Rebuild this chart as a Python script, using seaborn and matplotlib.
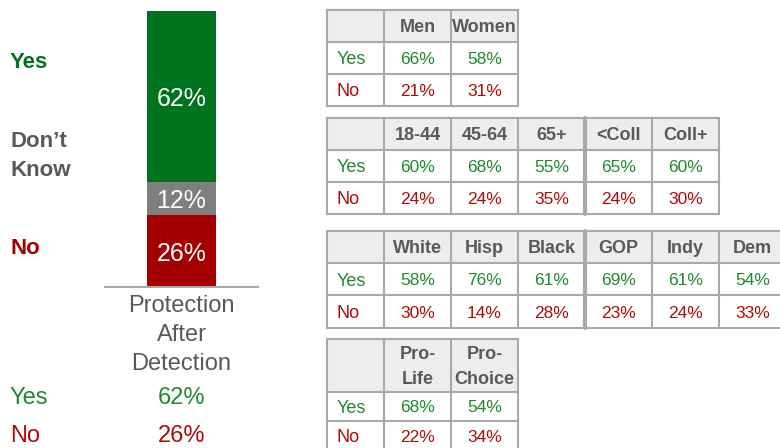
import numpy as np
import pandas as pd
import matplotlib
matplotlib.use("Agg")
import matplotlib.pyplot as plt
import seaborn as sns
from matplotlib.patches import Rectangle

sns.set_theme(style="white")
plt.rcParams['font.family'] = ['Liberation Sans', 'DejaVu Sans']

# colours
BAR_GREEN = '#00731F'
BAR_GREY = '#7F7F7F'
BAR_RED = '#A50000'
TXT_GREEN = '#1E8A2E'
TXT_RED = '#B00A0A'
TXT_GREY = '#595959'
GRID = '#A9A9A9'
HEADER_FILL = '#EDEDED'

# ---- data ----
bar_category = 'Protection\nAfter\nDetection'
responses = ['Yes', 'Don\u2019t\nKnow', 'No']
shares = [62, 12, 26]
summary_labels = ['Yes', 'No']
summary_values = [62, 26]

gender_groups = ['Men', 'Women']
gender_yes = [66, 58]
gender_no = [21, 31]

age_edu_groups = ['18-44', '45-64', '65+', '<Coll', 'Coll+']
age_edu_yes = [60, 68, 55, 65, 60]
age_edu_no = [24, 24, 35, 24, 30]

race_party_groups = ['White', 'Hisp', 'Black', 'GOP', 'Indy', 'Dem']
race_party_yes = [58, 76, 61, 69, 61, 54]
race_party_no = [30, 14, 28, 23, 24, 33]

abortion_groups = ['Pro-\nLife', 'Pro-\nChoice']
abortion_yes = [68, 54]
abortion_no = [22, 34]

W, H = 780, 448
fig = plt.figure(figsize=(W / 100, H / 100), dpi=100)

# overlay axes in pixel coordinates for labels and tables
ov = fig.add_axes([0, 0, 1, 1])
ov.set_xlim(0, W)
ov.set_ylim(H, 0)
ov.axis('off')

# ---- stacked bar ----
bar_ax = fig.add_axes([105 / W, (H - 287) / H, 153 / W, 276 / H])
resp_colors = dict(zip(responses, [BAR_GREEN, BAR_GREY, BAR_RED]))
stack = list(zip(responses, shares))[::-1]  # bottom to top
tops = np.cumsum([v for _, v in stack])
for (resp, val), top in reversed(list(zip(stack, tops))):
    df = pd.DataFrame({'cat': [bar_category], 'val': [top]})
    sns.barplot(data=df, x='cat', y='val', color=resp_colors[resp], saturation=1,
                width=0.45, edgecolor='none', linewidth=0, ax=bar_ax)
    bar_ax.text(0, top - val / 2, f'{val}%', ha='center', va='center_baseline',
                color='white', fontsize=18)
bar_ax.set_xlim(-0.5, 0.5)
bar_ax.set_ylim(0, 100)
bar_ax.set_xlabel('')
bar_ax.set_ylabel('')
bar_ax.set_yticks([])
for s in ['top', 'left', 'right']:
    bar_ax.spines[s].set_visible(False)
bar_ax.spines['bottom'].set_color(GRID)
bar_ax.spines['bottom'].set_linewidth(1.5)
bar_ax.tick_params(axis='x', length=0, pad=6, labelsize=17, labelcolor=TXT_GREY)
for t in bar_ax.get_xticklabels():
    t.set_linespacing(1.4)

# left legend-like labels
label_y = [63, 156, 248]
for resp, y, c in zip(responses, label_y, [BAR_GREEN, TXT_GREY, BAR_RED]):
    ov.text(10, y, resp, ha='left', va='center', color=c, fontsize=16,
            fontweight='bold', linespacing=1.45)

# summary rows under the bar
for lab, val, y, c in zip(summary_labels, summary_values, [396, 434], [TXT_GREEN, TXT_RED]):
    ov.text(10, y, lab, ha='left', va='center_baseline', color=c, fontsize=17)
    ov.text(181.5, y, f'{val}%', ha='center', va='center_baseline', color=c, fontsize=17)


def draw_table(ax, left, top, groups, yes, no, heights, sep_after=None,
               label_w=57, col_w=67):
    widths = [label_w] + [col_w] * len(groups)
    xs = left + np.concatenate([[0], np.cumsum(widths)])
    ys = top + np.concatenate([[0], np.cumsum(heights)])
    ax.add_patch(Rectangle((xs[0], ys[0]), xs[-1] - xs[0], heights[0],
                           facecolor=HEADER_FILL, edgecolor='none'))
    for x in xs:
        ax.plot([x, x], [ys[0], ys[-1]], color=GRID, lw=1.5, solid_capstyle='projecting')
    for y in ys:
        ax.plot([xs[0], xs[-1]], [y, y], color=GRID, lw=1.5, solid_capstyle='projecting')
    if sep_after is not None:
        xsep = xs[sep_after + 1]
        ax.plot([xsep, xsep], [ys[0], ys[-1]], color=GRID, lw=3)
    mids = (ys[:-1] + ys[1:]) / 2
    for i, g in enumerate(groups):
        cx = (xs[i + 1] + xs[i + 2]) / 2
        ax.text(cx, mids[0] + 1.5, g, ha='center', va='center', color=TXT_GREY,
                fontsize=13, fontweight='bold', linespacing=1.65)
        ax.text(cx, mids[1], f'{yes[i]}%', ha='center', va='center_baseline',
                color=TXT_GREEN, fontsize=12.5)
        ax.text(cx, mids[2], f'{no[i]}%', ha='center', va='center_baseline',
                color=TXT_RED, fontsize=12.5)
    ax.text(xs[0] + 10, mids[1], 'Yes', ha='left', va='center_baseline',
            color=TXT_GREEN, fontsize=13)
    ax.text(xs[0] + 10, mids[2], 'No', ha='left', va='center_baseline',
            color=TXT_RED, fontsize=13)


draw_table(ov, 327, 10, gender_groups, gender_yes, gender_no, [32, 32, 32])
draw_table(ov, 327, 118, age_edu_groups, age_edu_yes, age_edu_no, [32, 32, 32], sep_after=3)
draw_table(ov, 327, 231, race_party_groups, race_party_yes, race_party_no, [32, 32, 33], sep_after=3)
draw_table(ov, 327, 339, abortion_groups, abortion_yes, abortion_no, [53, 29, 30])

fig.savefig('out.png', dpi=100)
